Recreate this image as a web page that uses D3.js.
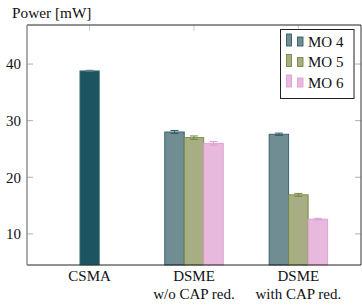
<!DOCTYPE html>
<html><head><meta charset="utf-8">
<script src="https://cdn.jsdelivr.net/npm/d3@7"></script>
<style>body{margin:0;background:#fff}svg{display:block}</style>
</head><body>
<script>
const categories = ["CSMA", "DSME|w/o CAP red.", "DSME|with CAP red."];
const csmaValue = 38.8, csmaErr = 0.1;
const seriesNames = ["MO 4", "MO 5", "MO 6"];
const mo4 = [null, 28.0, 27.6];
const mo5 = [null, 27.0, 16.9];
const mo6 = [null, 26.0, 12.6];
const mo4Err = [null, 0.27, 0.2];
const mo5Err = [null, 0.3, 0.25];
const mo6Err = [null, 0.33, 0.15];
const yTicks = [10, 20, 30, 40];
const fills = ["#6f8d93", "#a8ae83", "#e6b9dd"];
const strokes = ["#2f5d68", "#768640", "#df9dd5"];

const W = 362, H = 308;
const L = 27, R = 361, T = 25, B = 265;
const svg = d3.select("body").append("svg").attr("width", W).attr("height", H);

const x = d3.scalePoint().domain(categories).range([L, R]).padding(0.6);
const y = d3.scaleLinear().domain([4.5, 46.9]).range([B, T]);
const bw = 19.5;
const xs = d3.scaleBand().domain(seriesNames).range([-1.5 * bw, 1.5 * bw]).padding(0);

function txt(sel) { return sel.style("font-family", "'Liberation Serif', serif"); }

const g = svg.append("g");
yTicks.forEach(t => {
  g.append("line").attr("x1", L).attr("x2", L + 6).attr("y1", y(t)).attr("y2", y(t)).attr("stroke", "#999").attr("stroke-width", 0.8);
  g.append("line").attr("x1", R - 6).attr("x2", R).attr("y1", y(t)).attr("y2", y(t)).attr("stroke", "#999").attr("stroke-width", 0.8);
  txt(g.append("text")).attr("x", 21).attr("y", y(t)).attr("dy", "0.35em").attr("text-anchor", "end").attr("font-size", 15).attr("fill", "#111").text(t);
});
categories.forEach(c => {
  g.append("line").attr("x1", x(c)).attr("x2", x(c)).attr("y1", T).attr("y2", T + 6).attr("stroke", "#bbb").attr("stroke-width", 0.8);
});

const cx = x(categories[0]);
svg.append("rect").attr("x", cx - bw / 2).attr("y", y(csmaValue)).attr("width", bw).attr("height", y(4.5) - y(csmaValue))
  .attr("fill", "#1c5461").attr("stroke", "#4f7d86").attr("stroke-width", 0.8);
function errBar(xc, v, e, col) {
  svg.append("line").attr("x1", xc).attr("x2", xc).attr("y1", y(v - e)).attr("y2", y(v + e)).attr("stroke", col).attr("stroke-width", 1);
  [v - e, v + e].forEach(vv => svg.append("line").attr("x1", xc - 4).attr("x2", xc + 4).attr("y1", y(vv)).attr("y2", y(vv)).attr("stroke", col).attr("stroke-width", 1));
}
errBar(cx, csmaValue, csmaErr, "#4f7d86");

const series = [mo4, mo5, mo6];
const errs = [mo4Err, mo5Err, mo6Err];
series.forEach((vals, si) => {
  vals.forEach((v, ci) => {
    if (v == null) return;
    const x0 = x(categories[ci]) + xs(seriesNames[si]);
    svg.append("rect").attr("x", x0).attr("y", y(v)).attr("width", bw).attr("height", y(4.5) - y(v))
      .attr("fill", fills[si]).attr("stroke", strokes[si]).attr("stroke-width", 0.9);
    errBar(x0 + bw / 2, v, errs[si][ci], strokes[si]);
  });
});

svg.append("line").attr("x1", L).attr("x2", R).attr("y1", T).attr("y2", T).attr("stroke", "#222").attr("stroke-width", 1);
svg.append("line").attr("x1", L).attr("x2", R).attr("y1", B).attr("y2", B).attr("stroke", "#222").attr("stroke-width", 1);
svg.append("line").attr("x1", L).attr("x2", L).attr("y1", T).attr("y2", B).attr("stroke", "#888").attr("stroke-width", 1.4);
svg.append("line").attr("x1", R).attr("x2", R).attr("y1", T).attr("y2", B).attr("stroke", "#333").attr("stroke-width", 1);

categories.forEach(c => {
  const parts = c.split("|");
  parts.forEach((p, i) => {
    txt(svg.append("text")).attr("x", x(c)).attr("y", 281 + i * 17.5).attr("text-anchor", "middle").attr("font-size", 15).attr("fill", "#111").text(p);
  });
});

txt(svg.append("text")).attr("x", 12).attr("y", 18).attr("font-size", 15.3).attr("fill", "#111").text("Power [mW]");

const lg = svg.append("g");
lg.append("rect").attr("x", 280.5).attr("y", 29.5).attr("width", 73.5).attr("height", 69).attr("fill", "#fff").attr("stroke", "#222").attr("stroke-width", 1);
seriesNames.forEach((s, i) => {
  const yy = 34 + i * 20.5;
  lg.append("rect").attr("x", 286.5).attr("y", yy).attr("width", 5).attr("height", 12).attr("fill", fills[i]).attr("stroke", strokes[i]).attr("stroke-width", 0.9);
  lg.append("rect").attr("x", 297.5).attr("y", yy + 3).attr("width", 5.5).attr("height", 9).attr("fill", fills[i]).attr("stroke", strokes[i]).attr("stroke-width", 0.9);
  txt(lg.append("text")).attr("x", 308).attr("y", yy + 12.5).attr("font-size", 15).attr("fill", "#111").text(s);
});
</script>
</body></html>
